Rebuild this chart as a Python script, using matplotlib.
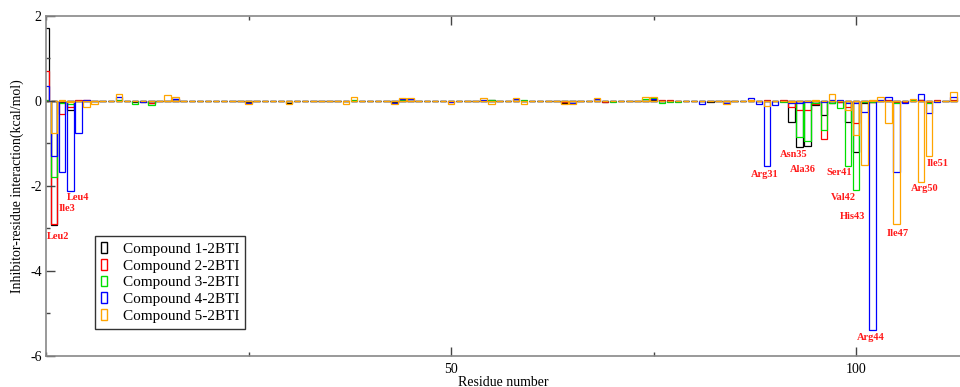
import numpy as np
import matplotlib
matplotlib.use("Agg")
import matplotlib.pyplot as plt
from matplotlib.patches import Patch
from matplotlib.ticker import MultipleLocator

plt.rcParams['font.family'] = ['Liberation Serif', 'DejaVu Serif']
plt.rcParams['axes.unicode_minus'] = False

# --- interaction energies per residue (kcal/mol), residue index 0..112 ---
compound1 = [1.71, -2.92, -0.03, -0.21, 0, 0, 0, 0, 0, 0,
             0, -0.03, -0.02, -0.04, 0, 0, 0.04, 0, 0, 0,
             0.01, 0, 0, 0, 0, -0.03, -0.01, 0, 0, 0,
             -0.04, 0, 0, 0, 0, 0, 0, 0, 0, 0,
             0, 0, 0, -0.03, 0, 0, 0, 0, 0, 0,
             0, 0, 0, 0, 0, 0.02, 0, 0, 0, 0,
             0, 0, 0, 0, -0.04, 0, 0, 0, 0, -0.03,
             -0.01, 0, 0, 0, 0, 0.03, 0, 0, 0, 0,
             0, 0, -0.02, 0, 0, 0.01, 0, 0, 0, 0,
             0, 0, -0.49, -1.08, -1.07, -0.09, -0.33, -0.04, -0.03, -0.49,
             -1.21, -0.05, -0.02, 0, 0, -0.03, 0, 0.03, 0.02, 0,
             0, 0, 0]
compound2 = [0.71, -2.90, -0.31, -0.13, 0.02, 0.03, 0, 0, 0, 0,
             0, 0, 0, -0.05, 0, 0, 0, 0, 0.01, 0,
             0, 0, 0, 0, 0, 0, 0, 0, 0.01, 0,
             0, 0, 0, 0, 0, 0, 0, 0, 0, 0,
             0, 0, 0, 0, 0, 0, 0, 0, 0, 0,
             -0.02, 0, 0, 0, 0, 0, 0, 0, 0, 0,
             0, 0, 0, 0, -0.02, 0, 0, 0, 0, -0.02,
             0, 0, 0, 0, 0, 0, 0.02, 0.02, 0, 0,
             0, 0, 0.01, 0, 0, 0, 0, 0, 0, 0.03,
             0, 0.03, -0.13, -0.21, -0.21, -0.07, -0.90, 0, -0.02, -0.15,
             -0.52, -0.03, -0.03, 0, 0.02, -0.02, -0.03, 0, 0.03, -0.02,
             0.02, 0, 0.03]
compound3 = [0.02, -1.79, -0.05, -0.06, 0, 0, 0, 0, 0, 0.02,
             0, -0.06, 0, -0.10, 0, 0, 0, 0, 0, 0,
             0, 0, 0, 0, 0, 0, 0, 0, 0, 0,
             0, 0, 0, 0, 0, 0, 0, 0, 0.02, 0.01,
             0, -0.01, 0, 0, 0.03, 0, 0, 0, 0, 0,
             0, 0, 0.01, 0, 0, 0.03, 0, 0, 0, 0.03,
             0, 0, 0, 0, 0, 0, 0, 0, 0, 0,
             -0.02, 0, 0, 0, 0.05, 0.07, -0.05, -0.02, -0.02, 0,
             0, 0, 0, 0, 0, 0, 0, 0, 0, 0,
             0, -0.02, 0, -0.84, -0.93, -0.05, -0.68, -0.05, -0.17, -1.54,
             -2.09, -0.02, -0.03, 0, 0, -0.05, 0, 0.02, 0, -0.05,
             0, 0, 0]
compound4 = [0.35, -1.29, -1.68, -2.12, -0.75, 0.03, 0, 0, 0, 0.09,
             0, 0, -0.03, 0, 0, 0.01, 0.05, 0, 0, -0.01,
             0, 0, 0, 0, 0, -0.04, 0, 0.01, 0, 0,
             0, 0, 0, 0, 0, 0, 0, 0, 0, 0,
             0, 0, 0, -0.04, 0.05, 0.04, 0, 0, 0, 0,
             -0.03, 0, 0, 0, 0.03, 0, 0, 0, 0.04, 0,
             0, 0, 0, 0, 0, -0.04, 0, 0, 0.04, 0,
             0, 0, 0, 0, 0, 0.05, 0, 0, 0, 0,
             0, -0.07, 0, 0, -0.05, 0, 0, 0.08, -0.08, -1.53,
             -0.10, 0, -0.05, -0.05, -0.03, 0, -0.03, 0.03, 0.02, -0.05,
             -0.05, -0.25, -5.39, 0.02, 0.09, -1.66, -0.05, 0, 0.16, -0.29,
             -0.02, 0, 0.10]
compound5 = [0, -0.75, 0.02, -0.03, 0.01, -0.14, -0.08, 0, 0, 0.16,
             0, 0, 0, 0, 0, 0.14, 0.10, 0, 0, 0,
             0, 0, 0, 0, 0, -0.06, 0, 0, 0, 0,
             -0.07, 0, 0, 0, 0, 0, 0, -0.07, 0.09, 0,
             0, 0, 0, -0.07, 0.08, 0.07, 0, 0, 0, 0,
             -0.06, 0, 0, 0, 0.06, -0.07, 0, 0, 0.07, -0.07,
             0, 0, 0, 0, -0.07, -0.07, 0, 0, 0.07, 0,
             0, 0, 0, 0, 0.09, 0.10, 0, 0, 0, 0,
             0, 0, 0, 0, -0.07, 0, 0, 0.02, 0, -0.12,
             0, 0, -0.02, 0, 0, 0.02, 0, 0.16, 0, -0.21,
             -0.80, -1.51, 0.02, 0.10, -0.52, -2.90, 0, 0.05, -1.90, -1.30,
             0, 0, 0.21]

series_names = ['Compound 1-2BTI', 'Compound 2-2BTI', 'Compound 3-2BTI',
                'Compound 4-2BTI', 'Compound 5-2BTI']
colors = ['#000000', '#ff0000', '#00e000', '#0000ff', '#ffa500']

# highlighted residues: index, name
hot_index = [1, 2, 3, 89, 93, 94, 99, 100, 101, 102, 105, 108, 109]
hot_names = ['Leu2', 'Ile3', 'Leu4', 'Arg31', 'Asn35', 'Ala36', 'Ser41',
             'Val42', 'His43', 'Arg44', 'Ile47', 'Arg50', 'Ile51']
# label placement (layout only)
label_xy = [(1.5, -3.2), (2.55, -2.52), (3.95, -2.28), (88.7, -1.72),
            (92.3, -1.25), (93.4, -1.62), (97.95, -1.69), (98.4, -2.28),
            (99.6, -2.71), (101.8, -5.57), (105.1, -3.11), (108.4, -2.07),
            (110.1, -1.48)]

residues = np.arange(len(compound1))
all_series = [compound1, compound2, compound3, compound4, compound5]

fig = plt.figure(figsize=(9.6, 3.87), dpi=100)
ax = fig.add_axes([0.0479, 0.0801, 0.952, 0.8786])

for vals, col in zip(all_series, colors):
    ax.bar(residues, vals, width=0.8, fill=False, edgecolor=col, linewidth=0.9)

for (lx, ly), name in zip(label_xy, hot_names):
    ax.text(lx, ly, name, color='#ff1a1a', fontsize=7.5, fontweight='bold',
            ha='center', va='center')

ax.set_xlim(0, 112.8)
ax.set_ylim(-6, 2)
ax.xaxis.set_major_locator(MultipleLocator(50))
ax.xaxis.set_minor_locator(MultipleLocator(25))
ax.yaxis.set_major_locator(MultipleLocator(2))
ax.yaxis.set_minor_locator(MultipleLocator(1))
ax.set_xticks([50, 100])
ax.tick_params(which='both', direction='in', top=True, right=False,
               color='#444444', labelsize=10)
ax.tick_params(which='major', length=6.5, width=1.0)
ax.tick_params(which='minor', length=3, width=1.0)
ax.tick_params(axis='x', pad=5)
ax.tick_params(axis='y', pad=3)

for side in ['left', 'bottom', 'top']:
    ax.spines[side].set_color('#888888')
    ax.spines[side].set_linewidth(1.2)
ax.spines['right'].set_visible(False)

ax.set_xlabel('Residue number', fontsize=10)
ax.set_ylabel('Inhibitor-residue interaction(kcal/mol)', fontsize=10)
ax.xaxis.set_label_coords(0.5, -0.058)
ax.yaxis.set_label_coords(-0.024, 0.5)

handles = [Patch(facecolor='none', edgecolor=c, linewidth=1.0) for c in colors]
leg = ax.legend(handles, series_names, loc='upper left',
                bbox_to_anchor=(0.0536, 0.353), borderaxespad=0,
                fontsize=11, frameon=True, fancybox=False, framealpha=1,
                edgecolor='#333333', handlelength=0.42, handleheight=0.7,
                handletextpad=1.0, labelspacing=0.2, borderpad=0.4)
leg.get_frame().set_linewidth(1.0)

fig.savefig('out.png', dpi=100)
